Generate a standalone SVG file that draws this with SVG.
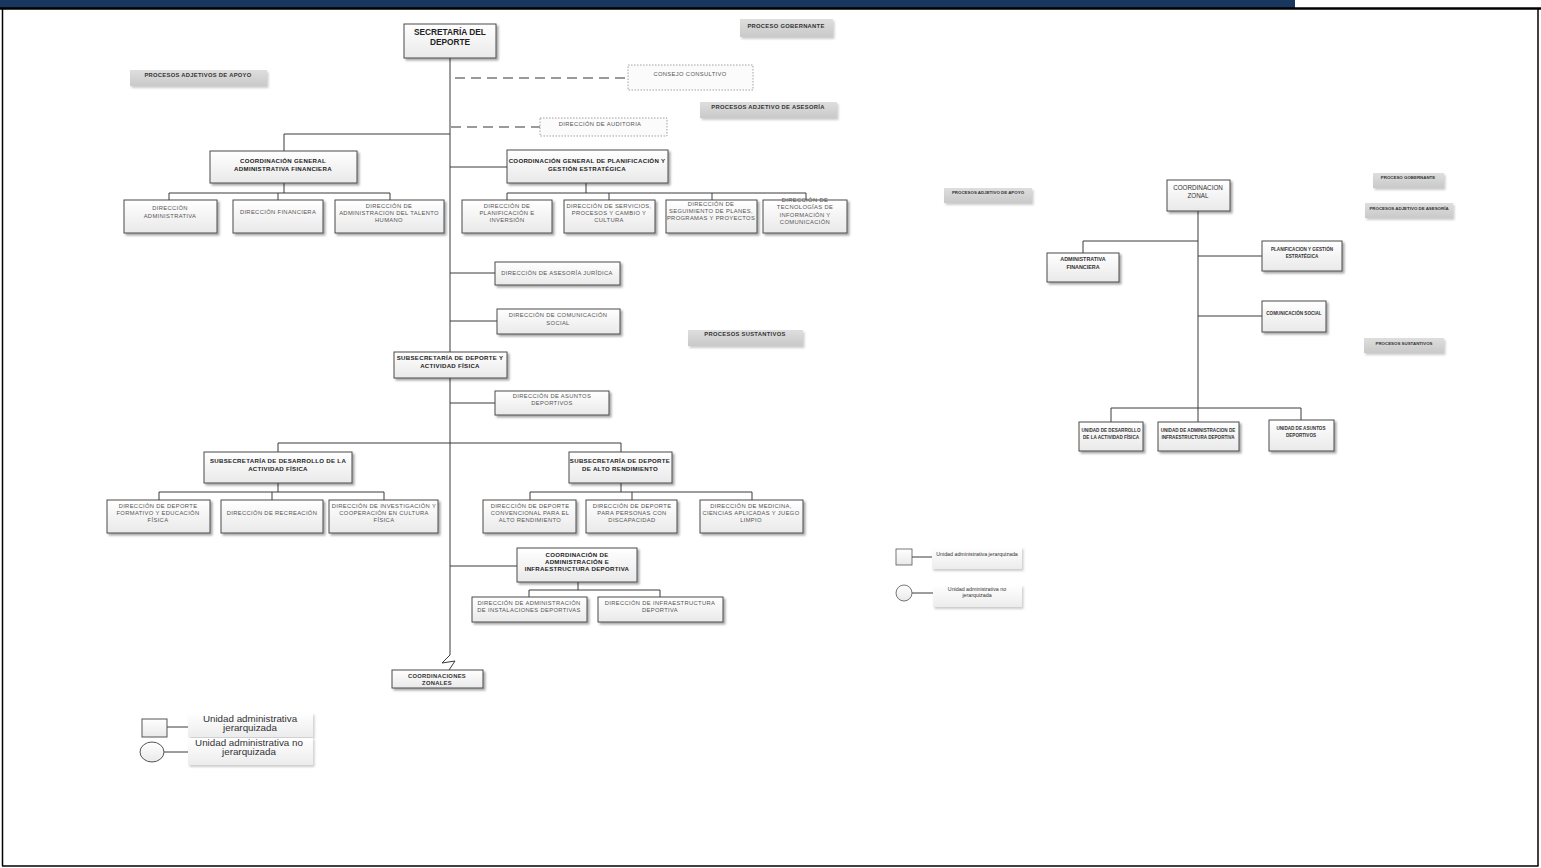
<svg xmlns="http://www.w3.org/2000/svg" width="1541" height="868" viewBox="0 0 1541 868">
<defs>
<linearGradient id="gBox" x1="0" y1="0" x2="0" y2="1"><stop offset="0" stop-color="#ffffff"/><stop offset="1" stop-color="#e9e9e9"/></linearGradient>
<linearGradient id="gLbl" x1="0" y1="0" x2="0" y2="1"><stop offset="0" stop-color="#dedede"/><stop offset="1" stop-color="#c9c9c9"/></linearGradient>
<linearGradient id="gLeg" x1="0" y1="0" x2="0" y2="1"><stop offset="0" stop-color="#ffffff"/><stop offset="1" stop-color="#ececec"/></linearGradient>
<filter id="sh" x="-20%" y="-30%" width="150%" height="180%"><feDropShadow dx="2" dy="2" stdDeviation="1.2" flood-color="#000" flood-opacity="0.35"/></filter>
<filter id="shL" x="-20%" y="-30%" width="150%" height="180%"><feDropShadow dx="1.5" dy="2" stdDeviation="1.2" flood-color="#000" flood-opacity="0.2"/></filter>
<style>
.box{fill:url(#gBox);stroke:#4a4a4a;stroke-width:1;filter:url(#sh)}
.dot{fill:#fbfbfb;stroke:#8a8a8a;stroke-width:0.8;stroke-dasharray:1.5 1.5}
.lbl{fill:url(#gLbl);filter:url(#shL)}
.leg{fill:url(#gLeg);filter:url(#shL)}
.ln{fill:none;stroke:#3a3a3a;stroke-width:1}
.dash{fill:none;stroke:#7a7a7a;stroke-width:1.5;stroke-dasharray:10 6}
text{font-family:"Liberation Sans",Arial,sans-serif;text-anchor:middle}
.t{font-size:5.8px;letter-spacing:0.35px;fill:#555}
.b{font-size:6.1px;letter-spacing:0.3px;font-weight:bold;fill:#222}
.bt{font-size:8.3px;font-weight:bold;fill:#222}
.p{font-size:5.8px;letter-spacing:0.3px;font-weight:bold;fill:#333}
.ps{font-size:4.4px;font-weight:bold;fill:#333}
.rs{font-size:4.6px;font-weight:bold;fill:#333}
.ra{font-size:5.4px;font-weight:bold;fill:#333}
.rz{font-size:6.3px;fill:#333}
.lg{font-size:9.8px;fill:#333}
.lgs{font-size:5.3px;fill:#333}
</style>
</defs>

<!-- frame -->
<g id="frame">
<rect x="0" y="0" width="1295" height="8" fill="#17375e"/>
<line x1="0" y1="8.5" x2="1541" y2="8.5" stroke="#000" stroke-width="2.5"/>
<line x1="2.5" y1="8" x2="2.5" y2="866" stroke="#000" stroke-width="1.5"/>
<line x1="1538" y1="8" x2="1538" y2="866" stroke="#000" stroke-width="1.5"/>
<line x1="2" y1="866" x2="1538.5" y2="866" stroke="#000" stroke-width="1.5"/>
</g>

<!-- connectors -->
<g id="connectors">
<path class="ln" d="M450,58 V655 L442,663 L455,661 L449,670"/>
<path class="dash" d="M455,78 H628"/>
<path class="dash" d="M451,127 H540"/>
<path class="ln" d="M450,134 H284 V151"/>
<path class="ln" d="M284,183 V193 M169,193 H390 M169,193 V200 M278,193 V200 M390,193 V200"/>
<path class="ln" d="M450,167 H507"/>
<path class="ln" d="M586,183 V193 M507,193 H806 M507,193 V200 M609,193 V200 M712,193 V200 M806,193 V200"/>
<path class="ln" d="M450,273 H495"/>
<path class="ln" d="M450,321 H497"/>
<path class="ln" d="M450,403 H495"/>
<path class="ln" d="M278,443 H621 M278,443 V452 M621,443 V452"/>
<path class="ln" d="M278,483 V492 M159,492 H384 M159,492 V500 M272,492 V500 M384,492 V500"/>
<path class="ln" d="M621,483 V492 M530,492 H752 M530,492 V500 M632,492 V500 M752,492 V500"/>
<path class="ln" d="M450,566 H517"/>
<path class="ln" d="M578,582 V590 M529,590 H660 M529,590 V597 M660,590 V597"/>
<!-- right chart -->
<path class="ln" d="M1198,211 V408"/>
<path class="ln" d="M1198,241 H1083 V253"/>
<path class="ln" d="M1198,256 H1262"/>
<path class="ln" d="M1198,316 H1262"/>
<path class="ln" d="M1111,408 H1301 M1111,408 V422 M1198,408 V422 M1301,408 V420"/>
<!-- legends -->
<path class="ln" d="M167,727 H188 M164,752 H188"/>
<path class="ln" d="M912,557 H932 M912,593 H933"/>
</g>

<!-- process labels -->
<g id="lbl-gobernante"><rect class="lbl" x="740" y="19" width="93" height="18"/><text class="p" x="786" y="27.5">PROCESO GOBERNANTE</text></g>
<g id="lbl-apoyo"><rect class="lbl" x="130" y="70" width="137" height="16"/><text class="p" x="198" y="77">PROCESOS ADJETIVOS DE APOYO</text></g>
<g id="lbl-asesoria"><rect class="lbl" x="700" y="102" width="137" height="16"/><text class="p" x="768" y="109">PROCESOS ADJETIVO DE ASESORÍA</text></g>
<g id="lbl-sustantivos"><rect class="lbl" x="688" y="330" width="115" height="16"/><text class="p" x="745" y="336">PROCESOS SUSTANTIVOS</text></g>

<!-- main nodes -->
<g id="n-secretaria"><rect class="box" x="404" y="24" width="92" height="34"/><text class="bt" x="450" y="35">SECRETARÍA DEL</text><text class="bt" x="450" y="45">DEPORTE</text></g>
<g id="n-consejo"><rect class="dot" x="628" y="65" width="125" height="25"/><text class="t" x="690" y="76">CONSEJO CONSULTIVO</text></g>
<g id="n-auditoria"><rect class="dot" x="540" y="118" width="127" height="18"/><text class="t" x="600" y="126">DIRECCIÓN DE AUDITORIA</text></g>

<g id="n-cgaf"><rect class="box" x="210" y="151" width="147" height="32"/><text class="b" x="283" y="163">COORDINACIÓN GENERAL</text><text class="b" x="283" y="170.5">ADMINISTRATIVA FINANCIERA</text></g>
<g id="n-dadm"><rect class="box" x="124" y="200" width="93" height="33"/><text class="t" x="170" y="210">DIRECCIÓN</text><text class="t" x="170" y="218">ADMINISTRATIVA</text></g>
<g id="n-dfin"><rect class="box" x="233" y="200" width="90" height="33"/><text class="t" x="278" y="214">DIRECCIÓN FINANCIERA</text></g>
<g id="n-dtal"><rect class="box" x="335" y="200" width="109" height="33"/><text class="t" x="389" y="207.5">DIRECCIÓN DE</text><text class="t" x="389" y="214.5">ADMINISTRACION DEL TALENTO</text><text class="t" x="389" y="221.5">HUMANO</text></g>

<g id="n-cgpge"><rect class="box" x="507" y="150" width="161" height="33"/><text class="b" x="587" y="163">COORDINACIÓN GENERAL DE PLANIFICACIÓN Y</text><text class="b" x="587" y="170.5">GESTIÓN ESTRATÉGICA</text></g>
<g id="n-dplan"><rect class="box" x="462" y="200" width="90" height="33"/><text class="t" x="507" y="207.5">DIRECCIÓN DE</text><text class="t" x="507" y="215">PLANIFICACIÓN E</text><text class="t" x="507" y="221.5">INVERSIÓN</text></g>
<g id="n-dserv"><rect class="box" x="564" y="200" width="91" height="33"/><text class="t" x="609" y="207.5">DIRECCIÓN DE SERVICIOS,</text><text class="t" x="609" y="215">PROCESOS Y CAMBIO Y</text><text class="t" x="609" y="221.5">CULTURA</text></g>
<g id="n-dseg"><rect class="box" x="666" y="200" width="91" height="33"/><text class="t" x="711" y="205.5">DIRECCIÓN DE</text><text class="t" x="711" y="213">SEGUIMIENTO DE PLANES,</text><text class="t" x="711" y="220">PROGRAMAS Y PROYECTOS</text></g>
<g id="n-dtic"><rect class="box" x="763" y="200" width="84" height="33"/><text class="t" x="805" y="201.5">DIRECCIÓN DE</text><text class="t" x="805" y="209">TECNOLOGÍAS DE</text><text class="t" x="805" y="216.5">INFORMACIÓN Y</text><text class="t" x="805" y="224">COMUNICACIÓN</text></g>

<g id="n-juridica"><rect class="box" x="495" y="262" width="125" height="23"/><text class="t" x="557" y="275">DIRECCIÓN DE ASESORÍA JURÍDICA</text></g>
<g id="n-comunicacion"><rect class="box" x="497" y="309" width="123" height="25"/><text class="t" x="558" y="317">DIRECCIÓN DE COMUNICACIÓN</text><text class="t" x="558" y="324.5">SOCIAL</text></g>
<g id="n-sdaf"><rect class="box" x="394" y="352" width="113" height="26"/><text class="b" x="450" y="360">SUBSECRETARÍA DE DEPORTE Y</text><text class="b" x="450" y="368">ACTIVIDAD FÍSICA</text></g>
<g id="n-asuntos"><rect class="box" x="495" y="391" width="114" height="24"/><text class="t" x="552" y="397.5">DIRECCIÓN DE ASUNTOS</text><text class="t" x="552" y="405">DEPORTIVOS</text></g>

<g id="n-sdesarrollo"><rect class="box" x="204" y="452" width="148" height="31"/><text class="b" x="278" y="463">SUBSECRETARÍA DE DESARROLLO DE LA</text><text class="b" x="278" y="470.5">ACTIVIDAD FÍSICA</text></g>
<g id="n-dformativo"><rect class="box" x="107" y="500" width="103" height="33"/><text class="t" x="158" y="508">DIRECCIÓN DE DEPORTE</text><text class="t" x="158" y="515">FORMATIVO Y EDUCACIÓN</text><text class="t" x="158" y="522">FÍSICA</text></g>
<g id="n-drecreacion"><rect class="box" x="221" y="500" width="102" height="33"/><text class="t" x="272" y="515">DIRECCIÓN DE RECREACIÓN</text></g>
<g id="n-dinvestigacion"><rect class="box" x="329" y="500" width="109" height="33"/><text class="t" x="384" y="508">DIRECCIÓN DE INVESTIGACIÓN Y</text><text class="t" x="384" y="515">COOPERACIÓN EN CULTURA</text><text class="t" x="384" y="522">FÍSICA</text></g>

<g id="n-salto"><rect class="box" x="569" y="452" width="103" height="31"/><text class="b" x="620" y="463">SUBSECRETARÍA DE DEPORTE</text><text class="b" x="620" y="470.5">DE ALTO RENDIMIENTO</text></g>
<g id="n-dconvencional"><rect class="box" x="483" y="500" width="93" height="33"/><text class="t" x="530" y="508">DIRECCIÓN DE DEPORTE</text><text class="t" x="530" y="515">CONVENCIONAL PARA EL</text><text class="t" x="530" y="522">ALTO RENDIMIENTO</text></g>
<g id="n-ddiscapacidad"><rect class="box" x="586" y="500" width="91" height="33"/><text class="t" x="632" y="508">DIRECCIÓN DE DEPORTE</text><text class="t" x="632" y="515">PARA PERSONAS CON</text><text class="t" x="632" y="522">DISCAPACIDAD</text></g>
<g id="n-dmedicina"><rect class="box" x="700" y="500" width="103" height="33"/><text class="t" x="751" y="508">DIRECCIÓN DE MEDICINA,</text><text class="t" x="751" y="515">CIENCIAS APLICADAS Y JUEGO</text><text class="t" x="751" y="522">LIMPIO</text></g>

<g id="n-cadi"><rect class="box" x="517" y="548" width="120" height="34"/><text class="b" x="577" y="557">COORDINACIÓN DE</text><text class="b" x="577" y="564">ADMINISTRACIÓN E</text><text class="b" x="577" y="571">INFRAESTRUCTURA DEPORTIVA</text></g>
<g id="n-dinstalaciones"><rect class="box" x="472" y="597" width="115" height="25"/><text class="t" x="529" y="605">DIRECCIÓN DE ADMINISTRACIÓN</text><text class="t" x="529" y="612">DE INSTALACIONES DEPORTIVAS</text></g>
<g id="n-dinfra"><rect class="box" x="598" y="597" width="125" height="25"/><text class="t" x="660" y="605">DIRECCIÓN DE INFRAESTRUCTURA</text><text class="t" x="660" y="612">DEPORTIVA</text></g>

<g id="n-czonales"><rect class="box" x="392" y="670" width="91" height="18"/><text class="p" x="437" y="678">COORDINACIONES</text><text class="p" x="437" y="684.5">ZONALES</text></g>

<!-- left legend -->
<g id="legend-left">
<rect x="142" y="719" width="25" height="18" fill="url(#gBox)" stroke="#555" stroke-width="1"/>
<rect class="leg" x="188" y="713" width="125" height="24"/>
<text class="lg" x="250" y="722">Unidad administrativa</text><text class="lg" x="250" y="731">jerarquizada</text>
<ellipse cx="152" cy="752" rx="12" ry="10" fill="url(#gBox)" stroke="#555" stroke-width="1"/>
<rect class="leg" x="188" y="738" width="125" height="27"/>
<text class="lg" x="249" y="746">Unidad administrativa no</text><text class="lg" x="249" y="755">jerarquizada</text>
</g>

<!-- right chart -->
<g id="r-lbl-apoyo"><rect class="lbl" x="944" y="188" width="88" height="15"/><text class="ps" x="988" y="194">PROCESOS ADJETIVO DE APOYO</text></g>
<g id="r-lbl-gobernante"><rect class="lbl" x="1373" y="173" width="71" height="15"/><text class="ps" x="1408" y="179">PROCESO GOBERNANTE</text></g>
<g id="r-lbl-asesoria"><rect class="lbl" x="1365" y="203" width="88" height="15"/><text class="ps" x="1409" y="210">PROCESOS ADJETIVO DE ASESORÍA</text></g>
<g id="r-lbl-sustantivos"><rect class="lbl" x="1364" y="338" width="80" height="15"/><text class="ps" x="1404" y="345">PROCESOS SUSTANTIVOS</text></g>

<g id="r-zonal"><rect class="box" x="1167" y="180" width="63" height="31"/><text class="rz" x="1198" y="189.5">COORDINACION</text><text class="rz" x="1198" y="197.5">ZONAL</text></g>
<g id="r-admfin"><rect class="box" x="1047" y="253" width="72" height="29"/><text class="ra" x="1083" y="261">ADMINISTRATIVA</text><text class="ra" x="1083" y="268.5">FINANCIERA</text></g>
<g id="r-planif"><rect class="box" x="1262" y="241" width="80" height="30"/><text class="rs" x="1302" y="251">PLANIFICACION Y GESTIÓN</text><text class="rs" x="1302" y="258">ESTRATÉGICA</text></g>
<g id="r-comsoc"><rect class="box" x="1262" y="301" width="64" height="31"/><text class="rs" x="1294" y="314.5">COMUNICACIÓN SOCIAL</text></g>
<g id="r-udaf"><rect class="box" x="1079" y="422" width="64" height="29"/><text class="rs" x="1111" y="431.5">UNIDAD DE DESARROLLO</text><text class="rs" x="1111" y="438.5">DE LA ACTIVIDAD FÍSICA</text></g>
<g id="r-uaid"><rect class="box" x="1158" y="422" width="81" height="29"/><text class="rs" x="1198" y="431.5">UNIDAD DE ADMINISTRACION DE</text><text class="rs" x="1198" y="438.5">INFRAESTRUCTURA DEPORTIVA</text></g>
<g id="r-uad"><rect class="box" x="1269" y="420" width="65" height="31"/><text class="rs" x="1301" y="429.5">UNIDAD DE ASUNTOS</text><text class="rs" x="1301" y="436.5">DEPORTIVOS</text></g>

<!-- right legend -->
<g id="legend-right">
<rect x="896" y="549" width="16" height="16" fill="url(#gBox)" stroke="#555" stroke-width="0.8"/>
<rect class="leg" x="932" y="547" width="90" height="22"/>
<text class="lgs" x="977" y="556">Unidad administrativa jerarquizada</text>
<circle cx="904" cy="593" r="8" fill="url(#gBox)" stroke="#555" stroke-width="0.8"/>
<rect class="leg" x="933" y="585" width="89" height="22"/>
<text class="lgs" x="977" y="590.5">Unidad administrativa no</text><text class="lgs" x="977" y="597">jerarquizada</text>
</g>
</svg>
